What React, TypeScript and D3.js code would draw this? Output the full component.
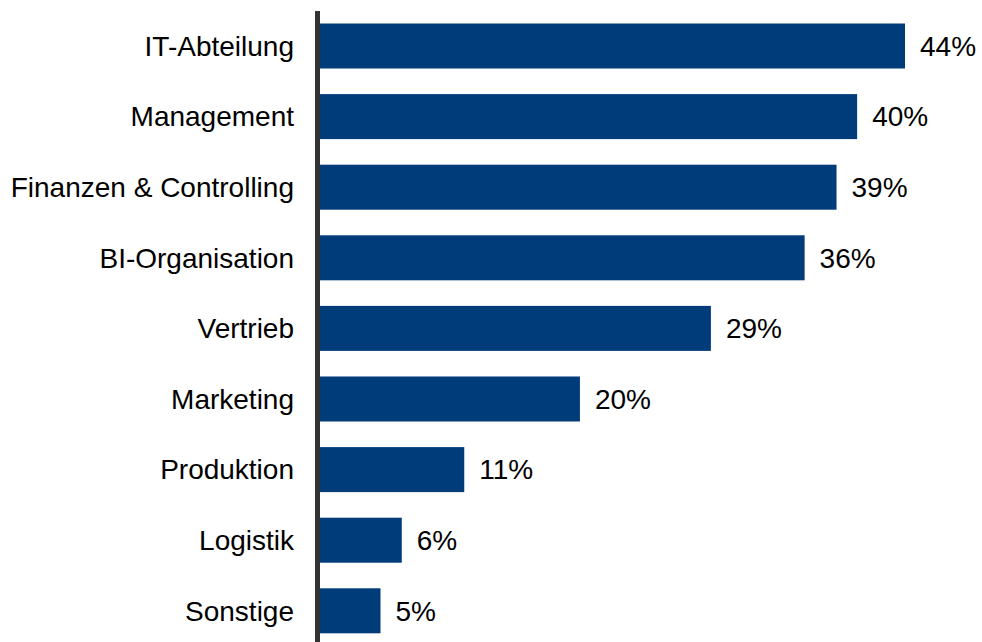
import React from "react";
import * as d3 from "d3";

const categories = [
  "IT-Abteilung",
  "Management",
  "Finanzen & Controlling",
  "BI-Organisation",
  "Vertrieb",
  "Marketing",
  "Produktion",
  "Logistik",
  "Sonstige",
];
const values = [44, 40.4, 38.85, 36.45, 29.4, 19.55, 10.85, 6.15, 4.55];

const W = 982;
const H = 642;

export default function App() {
  const x = d3.scaleLinear().domain([0, 44]).range([320, 905]);
  const y = d3
    .scaleBand<string>()
    .domain(categories)
    .range([10.7, 646.1])
    .paddingInner(0.3626)
    .paddingOuter(0.1813);
  const font = "'Liberation Sans', Arial, sans-serif";
  return (
    <svg
      width={W}
      height={H}
      style={{ position: "absolute", left: 0, top: 0, background: "#fff" }}
    >
      {categories.map((c, i) => {
        const yy = y(c)!;
        const bw = y.bandwidth();
        return (
          <g key={c}>
            <rect
              x={x(0)}
              y={yy}
              width={x(values[i]) - x(0)}
              height={bw}
              fill="#003b7a"
            />
            <text
              x={294}
              y={yy + bw / 2}
              dy="0.35em"
              textAnchor="end"
              fontFamily={font}
              fontSize={28}
              fill="#000"
            >
              {c}
            </text>
            <text
              x={x(values[i]) + 15}
              y={yy + bw / 2}
              dy="0.35em"
              textAnchor="start"
              fontFamily={font}
              fontSize={28}
              fill="#000"
            >
              {Math.round(values[i]) + "%"}
            </text>
          </g>
        );
      })}
      <line
        x1={317.5}
        x2={317.5}
        y1={11}
        y2={H}
        stroke="#333"
        strokeWidth={5}
      />
    </svg>
  );
}
